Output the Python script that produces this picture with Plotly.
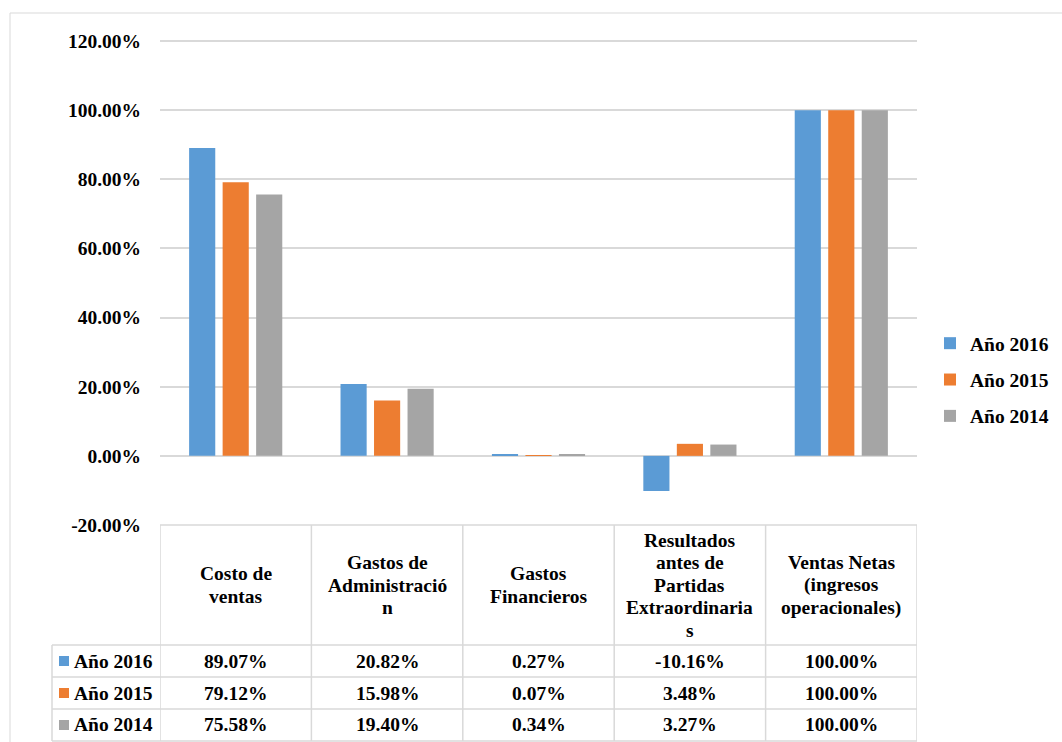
import plotly.graph_objects as go

# ---------------- data ----------------
CATEGORIES = [
    "Costo de ventas",
    "Gastos de Administración",
    "Gastos Financieros",
    "Resultados antes de Partidas Extraordinarias",
    "Ventas Netas (ingresos operacionales)",
]
HEADER_LINES = [
    ["Costo de", "ventas"],
    ["Gastos de", "Administració", "n"],
    ["Gastos", "Financieros"],
    ["Resultados", "antes de", "Partidas", "Extraordinaria", "s"],
    ["Ventas Netas", "(ingresos", "operacionales)"],
]
SERIES_NAMES = ["Año 2016", "Año 2015", "Año 2014"]
Y2016 = [89.07, 20.82, 0.27, -10.16, 100.00]
Y2015 = [79.12, 15.98, 0.07, 3.48, 100.00]
Y2014 = [75.58, 19.40, 0.34, 3.27, 100.00]
SERIES_VALUES = [Y2016, Y2015, Y2014]
COLORS = ["#5B9BD5", "#ED7D31", "#A5A5A5"]
Y_TICKS = [-20, 0, 20, 40, 60, 80, 100, 120]
Y_TICK_TEXT = [f"<b>{v:.2f}%</b>" for v in Y_TICKS]

# ---------------- layout geometry (pixels) ----------------
W, H = 1062, 742
PL, PR = 160, 917          # plot area left/right
PT, PB = 40, 525           # plot area top/bottom
FONT = "Liberation Serif"
GRID = "#D9D9D9"
FS = 19.5


def fx(px):
    return (px - PL) / (PR - PL)


def fy(py):
    return (PB - py) / (PB - PT)


fig = go.Figure()
for i, (name, vals) in enumerate(zip(SERIES_NAMES, SERIES_VALUES)):
    fig.add_trace(go.Bar(
        x=list(range(len(CATEGORIES))), y=vals, name=f"<b>{name}</b>",
        marker=dict(color=COLORS[i], line=dict(width=0)),
        legendgroup=name,
    ))

shapes = []
annotations = []

# outer chart border
shapes.append(dict(type="rect", xref="paper", yref="paper",
                   x0=fx(10), x1=fx(1075), y0=fy(13), y1=fy(760),
                   line=dict(color=GRID, width=1), fillcolor="rgba(0,0,0,0)", layer="below"))

# table geometry
TBL_TOP = 525
HDR_BOT = 645
ROW_H = 32
ROW_TOPS = [HDR_BOT + k * ROW_H for k in range(3)]
TBL_BOT = HDR_BOT + 3 * ROW_H
LEG_L = 52

line = dict(color=GRID, width=1.5)
shapes.append(dict(type="line", xref="x", yref="paper", x0=-0.5, x1=len(CATEGORIES) - 0.5,
                   y0=fy(TBL_TOP), y1=fy(TBL_TOP), line=line))
for yy in [HDR_BOT, HDR_BOT + ROW_H, HDR_BOT + 2 * ROW_H, TBL_BOT]:
    shapes.append(dict(type="line", xref="paper", yref="paper", x0=fx(LEG_L), x1=1,
                       y0=fy(yy), y1=fy(yy), line=line))
for k in range(len(CATEGORIES) + 1):
    shapes.append(dict(type="line", xref="x", yref="paper", x0=k - 0.5, x1=k - 0.5,
                       y0=fy(TBL_TOP), y1=fy(TBL_BOT), line=line))
shapes.append(dict(type="line", xref="paper", yref="paper", x0=fx(LEG_L), x1=fx(LEG_L),
                   y0=fy(HDR_BOT), y1=fy(TBL_BOT), line=line))

tfont = dict(family=FONT, size=FS, color="black")

# header text
LINE_SP = 22.5
hdr_mid = (TBL_TOP + HDR_BOT) / 2
for k, lines in enumerate(HEADER_LINES):
    n = len(lines)
    for j, t in enumerate(lines):
        yy = hdr_mid + (j - (n - 1) / 2) * LINE_SP
        annotations.append(dict(x=k, xref="x", y=fy(yy), yref="paper", text=f"<b>{t}</b>",
                                showarrow=False, xanchor="center", yanchor="middle", font=tfont))

# rows
for r, (name, vals) in enumerate(zip(SERIES_NAMES, SERIES_VALUES)):
    yc = ROW_TOPS[r] + ROW_H / 2
    shapes.append(dict(type="rect", xref="paper", yref="paper",
                       x0=fx(59), x1=fx(69), y0=fy(yc - 5), y1=fy(yc + 5),
                       fillcolor=COLORS[r], line=dict(width=0)))
    annotations.append(dict(x=fx(72), xref="paper", y=fy(yc), yref="paper", text=f"<b>{name}</b>",
                            showarrow=False, xanchor="left", yanchor="middle", font=tfont))
    for k, v in enumerate(vals):
        annotations.append(dict(x=k, xref="x", y=fy(yc), yref="paper", text=f"<b>{v:.2f}%</b>",
                                showarrow=False, xanchor="center", yanchor="middle", font=tfont))

fig.update_layout(
    width=W, height=H,
    margin=dict(l=PL, r=W - PR, t=PT, b=H - PB, pad=0, autoexpand=False),
    paper_bgcolor="white", plot_bgcolor="white",
    barmode="group", bargap=0.336, bargroupgap=0.22,
    showlegend=True,
    legend=dict(x=fx(930), xanchor="left", y=fy(324), yanchor="top",
                font=dict(family=FONT, size=FS, color="black"),
                tracegroupgap=8, bgcolor="rgba(0,0,0,0)"),
    shapes=shapes, annotations=annotations,
    xaxis=dict(range=[-0.5, len(CATEGORIES) - 0.5], showticklabels=False, showgrid=False,
               zeroline=False, showline=False, ticks="", automargin=False),
    yaxis=dict(range=[-20, 120.3], tickvals=Y_TICKS, ticktext=Y_TICK_TEXT,
               showgrid=True, gridcolor=GRID, gridwidth=1.5,
               zeroline=True, zerolinecolor=GRID, zerolinewidth=1.5,
               showline=False, ticks="", ticklabelstandoff=18, automargin=False,
               tickfont=dict(family=FONT, size=FS, color="black")),
)

fig.write_html("out.html")
